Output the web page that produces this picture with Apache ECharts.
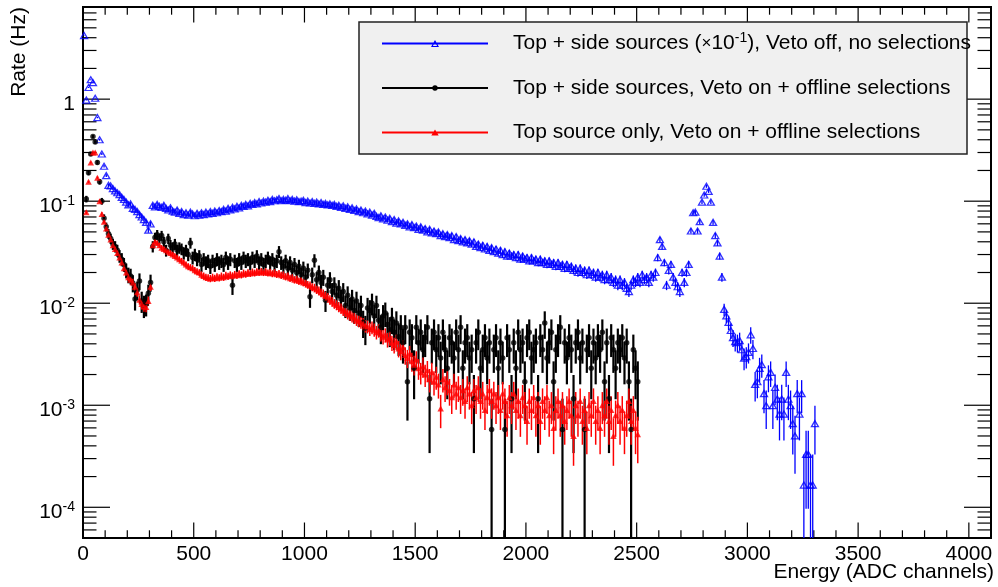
<!DOCTYPE html>
<html>
<head>
<meta charset="utf-8">
<script src="https://cdn.jsdelivr.net/npm/echarts@6/dist/echarts.min.js"></script>
<style>html,body{margin:0;padding:0;background:#fff}#c{width:998px;height:587px}</style>
</head>
<body>
<div id="c"></div>
<script>
// ---------------- DATA (rates in Hz, 10-channel bins) ----------------
const BIN_WIDTH = 10;
const seriesNames = [
  'Top + side sources (×10⁻¹), Veto off, no selections',
  'Top + side sources, Veto on + offline selections',
  'Top source only, Veto on + offline selections'
];
const xAxisTitle = 'Energy (ADC channels)';
const yAxisTitle = 'Rate (Hz)';
const ratePerCount = [1.65e-4, 5.8e-4, 1.2e-4];

// Blue: top + side sources, veto off (already scaled x0.1), bin centres 5..3305
const blueFirstBin = 5;
const blueRate = [
  4.2, 0.98, 1.3, 1.55, 1.45, 1.02, 0.66, 0.40, 0.29, 0.22,
  0.178, 0.143, 0.141, 0.133, 0.126, 0.121, 0.116, 0.109, 0.104, 0.098,
  0.092, 0.094, 0.085, 0.083, 0.079, 0.074, 0.07, 0.066, 0.062, 0.052,
  0.06, 0.091, 0.088, 0.093, 0.089, 0.087, 0.091, 0.085, 0.082, 0.086,
  0.08, 0.078, 0.082, 0.076, 0.079, 0.074, 0.077, 0.073, 0.078, 0.075,
  0.072, 0.076, 0.073, 0.077, 0.074, 0.078, 0.075, 0.079, 0.076, 0.08,
  0.077, 0.081, 0.079, 0.083, 0.08, 0.085, 0.082, 0.087, 0.084, 0.089,
  0.086, 0.091, 0.089, 0.093, 0.09, 0.095, 0.093, 0.097, 0.094, 0.099,
  0.096, 0.1, 0.098, 0.102, 0.099, 0.104, 0.101, 0.103, 0.106, 0.101,
  0.104, 0.102, 0.106, 0.101, 0.104, 0.1, 0.103, 0.099, 0.1, 0.102,
  0.097, 0.1, 0.096, 0.099, 0.095, 0.098, 0.094, 0.097, 0.093, 0.095,
  0.092, 0.094, 0.091, 0.093, 0.089, 0.091, 0.087, 0.09, 0.085, 0.088,
  0.083, 0.086, 0.081, 0.084, 0.079, 0.082, 0.077, 0.08, 0.075, 0.078,
  0.073, 0.076, 0.071, 0.069, 0.072, 0.067, 0.07, 0.065, 0.068, 0.063,
  0.066, 0.061, 0.064, 0.06, 0.062, 0.058, 0.06, 0.056, 0.059, 0.055,
  0.057, 0.053, 0.056, 0.052, 0.054, 0.05, 0.053, 0.049, 0.051, 0.048,
  0.05, 0.046, 0.048, 0.045, 0.047, 0.044, 0.046, 0.042, 0.045, 0.041,
  0.043, 0.04, 0.042, 0.039, 0.041, 0.038, 0.04, 0.036, 0.038, 0.035,
  0.037, 0.034, 0.036, 0.033, 0.035, 0.032, 0.034, 0.031, 0.033, 0.03,
  0.032, 0.029, 0.031, 0.029, 0.03, 0.028, 0.03, 0.027, 0.029, 0.027,
  0.028, 0.026, 0.028, 0.026, 0.027, 0.025, 0.027, 0.025, 0.026, 0.024,
  0.026, 0.024, 0.025, 0.023, 0.025, 0.023, 0.024, 0.022, 0.024, 0.022,
  0.023, 0.021, 0.022, 0.02, 0.022, 0.02, 0.021, 0.019, 0.021, 0.019,
  0.02, 0.018, 0.02, 0.018, 0.019, 0.017, 0.019, 0.017, 0.018, 0.016,
  0.017, 0.015, 0.017, 0.015, 0.016, 0.014, 0.013, 0.015, 0.017, 0.016,
  0.018, 0.016, 0.019, 0.017, 0.018, 0.016, 0.019, 0.018, 0.02, 0.028,
  0.042, 0.036, 0.025, 0.015, 0.021, 0.024, 0.018, 0.016, 0.0145, 0.013,
  0.02, 0.016, 0.02, 0.024, 0.051, 0.077, 0.078, 0.051, 0.063, 0.098,
  0.115, 0.14, 0.125, 0.098, 0.062, 0.046, 0.039, 0.029, 0.018, 0.0087,
  0.0075, 0.0065, 0.0054, 0.0046, 0.0042, 0.0041, 0.0043, 0.0035, 0.0029, 0.003,
  0.0033, 0.0049, 0.0036, 0.0016, 0.0017, 0.0023, 0.0025, 0.0013, 0.00099, 0.0019,
  0.0021, 0.00099, 0.0015, 0.00115, 0.00082, 0.00115, 0.00082, 0.0021, 0.00115, 0.00099,
  0.00066, 0.0005, 0.0013, 0.00082, 0.0013, 0.000165, 0.00033, 0.00033, 0.000165, 0.000165,
  0.00066
];

// Black: top + side sources, veto on + offline selections, bin centres 15..2505
const blackFirstBin = 15;
const blackRate = [
  0.105, 0.19, 0.29, 0.43, 0.38, 0.24, 0.155, 0.1, 0.068,
  0.056, 0.048, 0.043, 0.038, 0.036, 0.033, 0.029, 0.027, 0.024, 0.021,
  0.019, 0.0185, 0.0158, 0.011, 0.0135, 0.0165, 0.0105, 0.0095, 0.0098, 0.0125,
  0.016, 0.036, 0.044, 0.047, 0.043, 0.046, 0.04, 0.033, 0.043, 0.037,
  0.035, 0.038, 0.033, 0.035, 0.034, 0.031, 0.033, 0.03, 0.039, 0.028,
  0.03, 0.027, 0.029, 0.024, 0.027, 0.025, 0.026, 0.023, 0.026, 0.024,
  0.027, 0.025, 0.026, 0.024, 0.028, 0.025, 0.027, 0.015, 0.026, 0.024,
  0.027, 0.025, 0.028, 0.026, 0.027, 0.025, 0.028, 0.026, 0.029, 0.025,
  0.027, 0.024, 0.026, 0.028, 0.025, 0.027, 0.024, 0.026, 0.032, 0.025,
  0.023, 0.026, 0.022, 0.025, 0.021, 0.024, 0.02, 0.023, 0.019, 0.022,
  0.018, 0.021, 0.0116, 0.019, 0.0263, 0.017, 0.02, 0.016, 0.018, 0.0107,
  0.015, 0.017, 0.013, 0.015, 0.012, 0.014, 0.011, 0.013, 0.0095, 0.012,
  0.009, 0.011, 0.0085, 0.0105, 0.008, 0.0095, 0.0065, 0.0057, 0.009, 0.0085,
  0.01, 0.0075, 0.0095, 0.0068, 0.0058, 0.0075, 0.008, 0.0062, 0.0055, 0.007,
  0.0052, 0.0064, 0.0047, 0.0058, 0.0041, 0.0058, 0.0017, 0.0052, 0.0046, 0.0023,
  0.0058, 0.0041, 0.0052, 0.0035, 0.0046, 0.0058, 0.00116, 0.0041, 0.0052, 0.0035,
  0.0046, 0.0029, 0.0052, 0.0035, 0.0023, 0.0046, 0.0041, 0.0029, 0.0052, 0.0035,
  0.0058, 0.0023, 0.0041, 0.0046, 0.0029, 0.0035, 0.00116, 0.0041, 0.0052, 0.0023,
  0.0035, 0.0046, 0.0029, 0.0041, 0.00058, 0.0035, 0.0046, 0.0023, 0.0041, 0.0029,
  0.00058, 0.0046, 0.0035, 0.00116, 0.0041, 0.0023, 0.0052, 0.0035, 0.0041, 0.0017,
  0.0046, 0.0052, 0.0029, 0.0035, 0.0041, 0.00116, 0.0046, 0.0035, 0.0064, 0.0029,
  0.0041, 0.0052, 0.0017, 0.0035, 0.0046, 0.0058, 0.00058, 0.0041, 0.0029, 0.0046,
  0.0035, 0.00116, 0.0041, 0.0052, 0.0029, 0.0041, 0.00058, 0.0035, 0.0046, 0.0023,
  0.0041, 0.0029, 0.0046, 0.0035, 0.0052, 0.0017, 0.0041, 0.00116, 0.0046, 0.0035,
  0.0023, 0.0041, 0.0035, 0.0046, 0.0029, 0.0041, 0.0017, 0.00058, 0.0035, 0.0023,
  0.0017
];

// Red: top source only, veto on + offline selections, bin centres 15..2505
const redFirstBin = 15;
const redRate = [
  0.078, 0.155, 0.24, 0.3, 0.3, 0.17, 0.1, 0.075, 0.063,
  0.054, 0.047, 0.042, 0.037, 0.034, 0.031, 0.028, 0.025, 0.022, 0.02,
  0.018, 0.017, 0.016, 0.0145, 0.0128, 0.0108, 0.0098, 0.0093, 0.0092, 0.0105,
  0.0145, 0.037, 0.04, 0.039, 0.037, 0.035, 0.034, 0.033, 0.032, 0.031,
  0.03, 0.029, 0.028, 0.027, 0.026, 0.025, 0.024, 0.023, 0.0225, 0.022,
  0.021, 0.0205, 0.02, 0.019, 0.0185, 0.018, 0.0178, 0.0175, 0.018, 0.0176,
  0.0182, 0.0178, 0.0185, 0.018, 0.0188, 0.0184, 0.019, 0.0186, 0.0192, 0.0188,
  0.0195, 0.019, 0.0198, 0.0193, 0.02, 0.0196, 0.0203, 0.0198, 0.0205, 0.02,
  0.0206, 0.02, 0.0205, 0.0198, 0.0202, 0.0195, 0.02, 0.0192, 0.0196, 0.0188,
  0.019, 0.0182, 0.0185, 0.0176, 0.0178, 0.017, 0.0172, 0.0165, 0.0166, 0.016,
  0.0158, 0.0152, 0.015, 0.0144, 0.0142, 0.0136, 0.0133, 0.0127, 0.0124, 0.0118,
  0.0114, 0.0108, 0.0104, 0.0099, 0.0096, 0.0092, 0.0089, 0.0085, 0.0083, 0.0079,
  0.0077, 0.0074, 0.0072, 0.0069, 0.0067, 0.0065, 0.0063, 0.006, 0.0059, 0.0056,
  0.0058, 0.0055, 0.0052, 0.0054, 0.005, 0.0047, 0.0049, 0.0044, 0.0046, 0.0041,
  0.0039, 0.0042, 0.0036, 0.0034, 0.0037, 0.0031, 0.0029, 0.0032, 0.0027, 0.0025,
  0.0028, 0.0023, 0.0021, 0.0024, 0.002, 0.0022, 0.0018, 0.0021, 0.0017, 0.0019,
  0.0016, 0.00093, 0.0018, 0.0015, 0.0017, 0.0014, 0.0012, 0.0016, 0.0013, 0.0015,
  0.0012, 0.0014, 0.0011, 0.0015, 0.0013, 0.001, 0.0014, 0.0012, 0.0015, 0.0011,
  0.0013, 0.0009, 0.0012, 0.0014, 0.0011, 0.0013, 0.001, 0.0012, 0.0009, 0.0013,
  0.0011, 0.0008, 0.0012, 0.001, 0.0013, 0.0009, 0.0011, 0.0008, 0.0012, 0.001,
  0.0007, 0.0011, 0.0009, 0.0012, 0.0008, 0.001, 0.0007, 0.0011, 0.0009, 0.0012,
  0.0008, 0.001, 0.0006, 0.0009, 0.0011, 0.0008, 0.001, 0.0007, 0.0009, 0.0011,
  0.0008, 0.0005, 0.001, 0.0008, 0.0011, 0.0007, 0.0009, 0.0006, 0.001, 0.0008,
  0.0011, 0.0007, 0.0009, 0.0006, 0.001, 0.0008, 0.0011, 0.0007, 0.0009, 0.0005,
  0.0008, 0.001, 0.0007, 0.0009, 0.0006, 0.0008, 0.0011, 0.0007, 0.0009, 0.0006,
  0.00052
];

// Tick labels
const xTickValues = [0, 500, 1000, 1500, 2000, 2500, 3000, 3500, 4000];
const yTickValues = [1e-4, 1e-3, 1e-2, 1e-1, 1];
const yTickLabels = ['10^-4', '10^-3', '10^-2', '10^-1', '1'];

// ---------------- CHART ----------------
const X_MIN = 0, X_MAX = 4100, Y_MIN = 5e-5, Y_MAX = 8;
const FONT = '"Liberation Sans", Arial, Helvetica, sans-serif';
const COLORS = ['#0000ff', '#000000', '#ff0000'];

function buildPoints(first, rates, w) {
  return rates.map((v, i) => {
    const e = first + i * BIN_WIDTH;
    const err = Math.sqrt(v * w);
    return [e, v, Math.max(v - err, Y_MIN), v + err];
  });
}
const pts = [
  buildPoints(blueFirstBin, blueRate, ratePerCount[0]),
  buildPoints(blackFirstBin, blackRate, ratePerCount[1]),
  buildPoints(redFirstBin, redRate, ratePerCount[2])
];

function errorBars(name, data, color, width) {
  return {
    type: 'custom', name, coordinateSystem: 'cartesian2d', data, clip: true, silent: true,
    encode: { x: 0, y: [1, 2, 3] }, itemStyle: { color }, z: 2,
    renderItem: (params, api) => {
      const x = api.value(0);
      const a = api.coord([x, api.value(3)]);
      const b = api.coord([x, api.value(2)]);
      return { type: 'line', shape: { x1: a[0], y1: a[1], x2: b[0], y2: b[1] },
        style: { stroke: color, lineWidth: width } };
    }
  };
}

const tickSeries = {
  type: 'custom', coordinateSystem: 'cartesian2d', data: [[1000, 1]], silent: true, clip: false, z: 1,
  renderItem: (params, api) => {
    const lines = [];
    const st = { stroke: '#000', lineWidth: 1.2 };
    const yb = api.coord([X_MIN, Y_MIN])[1], yt = api.coord([X_MIN, Y_MAX])[1];
    const xl = api.coord([X_MIN, Y_MIN])[0], xr = api.coord([X_MAX, Y_MIN])[0];
    for (let v = X_MIN; v <= X_MAX; v += 100) {
      const len = (xTickValues.indexOf(v) >= 0) ? 15.5 : 7.7;
      const px = api.coord([v, Y_MIN])[0];
      lines.push({ type: 'line', shape: { x1: px, y1: yb, x2: px, y2: yb - len }, style: st });
      lines.push({ type: 'line', shape: { x1: px, y1: yt, x2: px, y2: yt + len }, style: st });
    }
    for (let n = -5; n <= 0; n++) {
      for (let k = 1; k <= 9; k++) {
        const v = k * Math.pow(10, n);
        if (v < Y_MIN * 0.999 || v > Y_MAX * 1.001) continue;
        const len = k === 1 ? 27 : 13.5;
        const py = api.coord([X_MIN, v])[1];
        lines.push({ type: 'line', shape: { x1: xl, y1: py, x2: xl + len, y2: py }, style: st });
        lines.push({ type: 'line', shape: { x1: xr, y1: py, x2: xr - len, y2: py }, style: st });
      }
    }
    return { type: 'group', children: lines };
  }
};

const LINE = 'M0,2.6 H106 V4.4 H0 Z';
const ICONS = [
  'path://' + LINE + ' M49,7 L53,0 L57,7 Z M50.9,5.9 L55.1,5.9 L53,2.3 Z',
  'path://' + LINE + ' M50.3,3.5 A2.7,2.7 0 1 1 55.7,3.5 A2.7,2.7 0 1 1 50.3,3.5 Z',
  'path://' + LINE + ' M49.3,6.6 L53,0.4 L56.7,6.6 Z'
];

function richLabel(s) {
  const parts = s.split('^');
  return parts.length === 2 ? '{n|' + parts[0] + '}{s|' + parts[1] + '}' : '{n|' + s + '}';
}

const option = {
  animation: false,
  backgroundColor: '#ffffff',
  textStyle: { fontFamily: FONT },
  grid: { left: 83, right: 7, top: 7, bottom: 49, outerBoundsMode: 'none', containLabel: false,
    show: true, borderColor: '#000', borderWidth: 2, backgroundColor: 'transparent' },
  xAxis: {
    type: 'value', min: X_MIN, max: X_MAX, interval: 500,
    axisLine: { show: false }, axisTick: { show: false }, splitLine: { show: false },
    axisLabel: {
      margin: 6, fontSize: 21, lineHeight: 21, color: '#000', fontFamily: FONT, hideOverlap: false,
      formatter: v => (xTickValues.indexOf(v) >= 0 ? String(v) : '')
    }
  },
  yAxis: {
    type: 'log', logBase: 10, min: Y_MIN, max: Y_MAX,
    axisLine: { show: false }, axisTick: { show: false }, splitLine: { show: false },
    axisLabel: {
      margin: 8, color: '#000', padding: [10, 0, 0, 0],
      formatter: v => {
        for (let i = 0; i < yTickValues.length; i++) {
          if (Math.abs(Math.log10(v) - Math.log10(yTickValues[i])) < 1e-6) return richLabel(yTickLabels[i]);
        }
        return '';
      },
      rich: {
        n: { fontSize: 21, lineHeight: 24, color: '#000', fontFamily: FONT },
        s: { fontSize: 14, lineHeight: 10, verticalAlign: 'top', color: '#000', fontFamily: FONT }
      }
    }
  },
  legend: {
    orient: 'vertical', left: 382, top: 31.5, padding: 0, itemGap: 20.5,
    itemWidth: 106, itemHeight: 7, z: 6, symbolKeepAspect: true,
    data: seriesNames.map((n, i) => ({ name: n, icon: ICONS[i], itemStyle: { color: COLORS[i], borderWidth: 0, borderColor: 'rgba(0,0,0,0)' } })),
    formatter: name => {
      if (name === seriesNames[0]) return '{n|Top + side sources (}{x|×}{n|10}{s|-1}{n|), Veto off, no selections}';
      return '{n|' + name + '}';
    },
    textStyle: {
      fontSize: 21, lineHeight: 24, color: '#000', fontFamily: FONT, padding: [0, 0, 0, 20],
      rich: {
        n: { fontSize: 21, lineHeight: 24, color: '#000', fontFamily: FONT },
        x: { fontSize: 17, lineHeight: 24, color: '#000', fontFamily: FONT },
        s: { fontSize: 14, lineHeight: 10, verticalAlign: 'top', color: '#000', fontFamily: FONT }
      }
    }
  },
  graphic: [
    { type: 'rect', z: 5, shape: { x: 359, y: 22, width: 608, height: 132 }, style: { fill: '#f0f0f0', stroke: '#222', lineWidth: 1.5 } },
    { type: 'text', z: 5, x: 9, y: 7, rotation: Math.PI / 2,
      style: { text: yAxisTitle, fontSize: 21, fontFamily: FONT, fill: '#000', align: 'right', verticalAlign: 'top' } },
    { type: 'text', z: 5, x: 994, y: 562,
      style: { text: xAxisTitle, fontSize: 21, fontFamily: FONT, fill: '#000', align: 'right', verticalAlign: 'top' } }
  ],
  series: [
    tickSeries,
    errorBars(seriesNames[0], pts[0], COLORS[0], 1.3),
    { type: 'scatter', name: seriesNames[0], data: pts[0].map(p => [p[0], p[1]]), symbol: 'triangle', symbolSize: [7, 6],
      itemStyle: { color: 'none', borderColor: COLORS[0], borderWidth: 1.3 }, z: 2 },
    errorBars(seriesNames[1], pts[1], COLORS[1], 2.2),
    { type: 'scatter', name: seriesNames[1], data: pts[1].map(p => [p[0], p[1]]), symbol: 'circle', symbolSize: 5.5,
      itemStyle: { color: COLORS[1] }, z: 2 },
    errorBars(seriesNames[2], pts[2], COLORS[2], 1.5),
    { type: 'scatter', name: seriesNames[2], data: pts[2].map(p => [p[0], p[1]]), symbol: 'triangle', symbolSize: [6.5, 6],
      itemStyle: { color: COLORS[2] }, z: 2 }
  ]
};

const chart = echarts.init(document.getElementById('c'), null, { renderer: 'canvas', width: 998, height: 587 });
chart.setOption(option);
</script>
</body>
</html>
